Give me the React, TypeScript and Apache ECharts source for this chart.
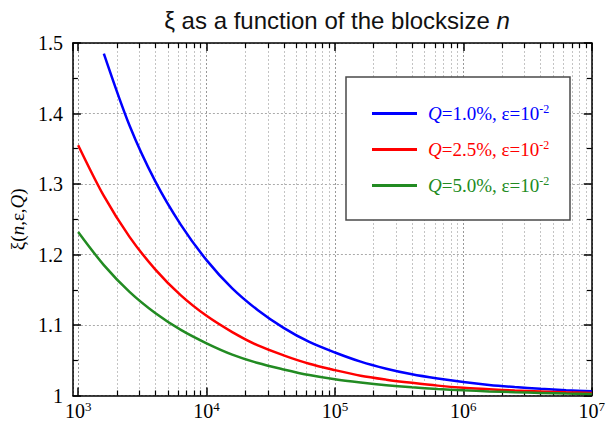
import React, { useEffect, useRef } from "react";
import * as echarts from "echarts";

const blocksizes = [1000, 1585, 2512, 3981, 6310, 10000, 15850, 25120, 39810, 63100, 100000, 158500, 251200, 398100, 631000, 1000000, 1585000, 2512000, 3981000, 6310000, 10000000];
const seriesNames = ["Q=1.0%, ε=10^-2", "Q=2.5%, ε=10^-2", "Q=5.0%, ε=10^-2"];
const seriesColors = ["#0000ff", "#ff0000", "#228b22"];
const qLabels = ["1.0", "2.5", "5.0"];
// blue curve begins at n≈1585 (no value at 1000)
const xiQ10 = [null, 1.485, 1.383, 1.304, 1.242, 1.192, 1.152, 1.121, 1.096, 1.076, 1.061, 1.048, 1.038, 1.03, 1.024, 1.019, 1.015, 1.012, 1.0096, 1.0076, 1.006];
const xiQ25 = [1.355, 1.283, 1.225, 1.179, 1.142, 1.113, 1.09, 1.071, 1.057, 1.045, 1.036, 1.028, 1.0225, 1.018, 1.014, 1.011, 1.009, 1.007, 1.0057, 1.0045, 1.0036];
const xiQ50 = [1.232, 1.185, 1.147, 1.117, 1.093, 1.074, 1.058, 1.046, 1.037, 1.029, 1.023, 1.0185, 1.0147, 1.0117, 1.0093, 1.0074, 1.0058, 1.0046, 1.0037, 1.0029, 1.0023];
const minorTickValues = [2, 3, 4, 5, 6, 7, 8, 9].flatMap((m) => [1e3, 1e4, 1e5, 1e6].map((d) => m * d));

const serif = "'Liberation Serif', 'DejaVu Serif', serif";
const sans = "'Liberation Sans', Arial, sans-serif";

export default function App() {
  const ref = useRef<HTMLDivElement>(null);
  useEffect(() => {
    if (!ref.current) return;
    const chart = echarts.init(ref.current, undefined, { renderer: "svg" });
    const allSeries = [xiQ10, xiQ25, xiQ50];
    const xCommon = { type: "log", logBase: 10, min: 910, max: 1e7, gridIndex: 0 } as any;
    const richLegend = (color: string) => ({
      i: { fontFamily: serif, fontStyle: "italic", fontSize: 19, color, lineHeight: 20 },
      t: { fontFamily: serif, fontSize: 19, color, lineHeight: 20 },
      s: { fontFamily: serif, fontSize: 12, color, padding: [0, 0, 9, 0] },
    });
    chart.setOption({
      animation: false,
      title: {
        text: "{a|ξ as a function of the blocksize }{b|n}",
        left: 332,
        textAlign: "center",
        top: 3,
        textStyle: {
          rich: {
            a: { fontFamily: sans, fontSize: 24, fontWeight: "normal", color: "#111" },
            b: { fontFamily: sans, fontSize: 24, fontWeight: "normal", fontStyle: "italic", color: "#111" },
          },
        },
      },
      grid: { left: 63, right: 12, top: 43, bottom: 23 },
      xAxis: [
        {
          ...xCommon,
          position: "bottom",
          axisLine: { show: true, lineStyle: { color: "#000", width: 1.5 } },
          axisTick: { show: true, inside: true, length: 8, lineStyle: { color: "#000", width: 1.5 } },
          axisLabel: {
            margin: 4,
            formatter: (v: number) => `{b|10}{s|${Math.round(Math.log10(v))}}`,
            rich: {
              b: { fontFamily: serif, fontSize: 20, color: "#000", lineHeight: 20 },
              s: { fontFamily: serif, fontSize: 13, color: "#000", padding: [0, 0, 10, 0] },
            },
          },
          splitLine: { show: true, lineStyle: { color: "#999", type: [2, 2], width: 1 } },
        },
        {
          ...xCommon,
          position: "bottom",
          axisLine: { show: false },
          axisTick: { show: true, inside: true, length: 5, customValues: minorTickValues, lineStyle: { color: "#000", width: 1.2 } },
          axisLabel: { show: false },
          splitLine: { show: true, lineStyle: { color: "#c4c4c4", type: [2, 2], width: 1 } },
        },
        {
          ...xCommon,
          position: "top",
          axisLine: { show: true, lineStyle: { color: "#000", width: 1.5 } },
          axisTick: { show: true, inside: true, length: 8, lineStyle: { color: "#000", width: 1.5 } },
          axisLabel: { show: false },
          splitLine: { show: false },
        },
        {
          ...xCommon,
          position: "top",
          axisLine: { show: false },
          axisTick: { show: true, inside: true, length: 5, customValues: minorTickValues, lineStyle: { color: "#000", width: 1.2 } },
          axisLabel: { show: false },
          splitLine: { show: false },
        },
      ],
      yAxis: [
        {
          type: "value",
          min: 1,
          max: 1.5,
          interval: 0.1,
          position: "left",
          name: "{r|ξ(}{i|n}{r|,ε,}{i|Q}{r|)}",
          nameLocation: "middle",
          nameRotate: 90,
          nameGap: 31,
          nameTextStyle: {
            rich: {
              r: { fontFamily: serif, fontSize: 19, color: "#000" },
              i: { fontFamily: serif, fontSize: 19, fontStyle: "italic", color: "#000" },
            },
          },
          axisLine: { show: true, lineStyle: { color: "#000", width: 1.5 } },
          axisTick: { show: true, inside: true, length: 8, lineStyle: { color: "#000", width: 1.5 } },
          minorTick: { show: true, splitNumber: 2, length: 5, lineStyle: { color: "#000", width: 1.2 } },
          axisLabel: {
            margin: 10,
            fontFamily: serif,
            fontSize: 20,
            color: "#000",
            formatter: (v: number) => (Math.abs(v - 1) < 1e-9 ? "1" : v.toFixed(1)),
          },
          splitLine: { show: true, lineStyle: { color: "#aaa", type: [2, 2], width: 1 } },
        },
        {
          type: "value",
          min: 1,
          max: 1.5,
          interval: 0.1,
          position: "right",
          axisLine: { show: true, lineStyle: { color: "#000", width: 1.5 } },
          axisTick: { show: true, inside: true, length: 8, lineStyle: { color: "#000", width: 1.5 } },
          minorTick: { show: true, splitNumber: 2, length: 5, lineStyle: { color: "#000", width: 1.2 } },
          axisLabel: { show: false },
          splitLine: { show: false },
        },
      ],
      graphic: [
        {
          type: "rect",
          z: 10,
          shape: { x: 346, y: 77, width: 224, height: 143 },
          style: { fill: "#fff", stroke: "#4a4a4a", lineWidth: 1.5 },
        },
      ],
      legend: {
        z: 20,
        orient: "vertical",
        left: 372,
        top: 103,
        itemGap: 16,
        itemWidth: 45,
        itemHeight: 3,
        icon: "rect",
        padding: 0,
        data: seriesNames.map((n, k) => ({
          name: n,
          textStyle: { color: seriesColors[k], padding: [0, 0, 0, 6], rich: richLegend(seriesColors[k]) },
        })),
        formatter: (name: string) => {
          const k = seriesNames.indexOf(name);
          return `{i|Q}{t|=${qLabels[k]}%, ε=10}{s|-2}`;
        },
      },
      series: allSeries.map((vals, k) => ({
        name: seriesNames[k],
        type: "line",
        xAxisIndex: 0,
        yAxisIndex: 0,
        smooth: 0.3,
        showSymbol: false,
        symbol: "none",
        lineStyle: { color: seriesColors[k], width: 2.5 },
        itemStyle: { color: seriesColors[k] },
        data: blocksizes.map((n, j) => (vals[j] == null ? null : [n, vals[j]])).filter((d) => d != null),
        z: 5,
      })),
    });
    return () => chart.dispose();
  }, []);
  return <div ref={ref} style={{ position: "absolute", left: 0, top: 0, width: 608, height: 421 }} />;
}
